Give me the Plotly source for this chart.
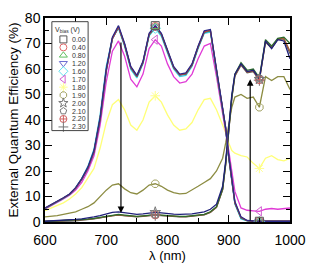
import plotly.graph_objects as go

# ---------------- data ----------------
wl = [600,610,620,630,640,650,660,670,680,690,700,710,720,730,740,750,760,770,780,790,
      800,810,820,830,840,850,860,870,880,890,895,900,905,910,920,930,940,950,960,970,
      980,990,1000]

bias = ["0.00","0.40","0.80","1.20","1.60","1.70","1.80","1.90","2.00","2.10","2.20","2.30"]

eqe_000 = [5.5,6.8,8.0,9.5,11.0,13.5,17,21.5,28,41,60,72.5,77,70,61,57.5,63,74,77,74,
           67.5,61,58,58.5,62,69,75,75.5,60,45,37,26,16,8,2,0.6,0.4,0.3,0.3,0.3,0.3,0.3,0.3]
eqe_040 = [5.4,6.7,7.9,9.4,10.9,13.3,16.8,21.2,27.6,40.5,59.5,72,76.6,69.6,60.7,57.2,62.7,73.6,76.7,73.7,
           67.2,60.7,57.8,58.2,61.7,68.7,74.6,75.2,59.6,44.6,36.8,25.6,15.5,7.6,1.8,0.5,0.4,0.3,0.3,0.3,0.3,0.3,0.3]
eqe_080 = [5.4,6.7,7.9,9.4,10.9,13.3,16.8,21.2,27.6,40.5,59.5,72,76.5,69.5,60.6,57.1,62.6,73.5,76.6,73.6,
           67.1,60.6,57.7,58.1,61.6,68.6,74.5,75.1,59.5,44.5,36.7,25.5,15.4,7.5,1.7,0.5,0.4,0.3,0.3,0.3,0.3,0.3,0.3]
eqe_120 = [5.3,6.6,7.8,9.3,10.8,13.2,16.6,21,27.3,40,59,71.8,76.4,69.4,60.5,57,62.5,73.4,76.5,73.5,
           67,60.5,57.6,58,61.5,68.5,74.4,75,59.4,44.4,36.6,25.4,15.3,7.4,1.6,0.5,0.3,0.3,0.3,0.3,0.3,0.3,0.3]
eqe_160 = [5.2,6.5,7.7,9.2,10.8,13.4,17,21.8,28.5,42,61,72,76,68.8,59.8,56.5,62,73,76,72.8,
           66.3,60,57,57.5,61,68,74,74.5,59,44,36.5,25,15,7,1.2,0.4,0.2,0.2,0.2,0.2,0.2,0.2,0.2]
eqe_170 = [5,6.3,7.5,9,10.5,12.5,15.5,20,26,38,55,67,71,65,56,53,58,68,71.5,69,
           62,57,54.5,55,58,64,69,70,57,43,36,28,20,12,5.5,4.6,4.4,4.2,5,5.3,5,5.2,5.5]
eqe_180 = [4.5,5.5,6.5,7.5,9,11,13.5,17,21,29,39,46,48,44,38,36,40,47,49.5,47,
           42,38,36,36.5,39,44,48,48.5,44,38,35,31,28,27,26,25.5,23,21,25,26,24.5,24,25]
eqe_190 = [2,2.2,2.5,3,3.5,4,5,6,7.5,10,12.5,14.5,15,13,11.5,11,12.5,14.5,15,14,
           12.5,11.5,11,11.2,12.5,14,15.5,17,20,25,31,38,45,49,50,48.5,49,45,57,55.5,57,57,52]
eqe_200 = [0.3,0.4,0.5,0.6,0.8,1,1.2,1.5,2,2.5,3.2,3.8,4,3.6,3.2,3,3.2,3.6,3.8,3.6,
           3.3,3.1,3,3,3.2,3.6,4,5,7,14,24,37,50,58,62,59,59.5,56,71,68,71.5,71,64]
eqe_210 = [0.2,0.3,0.4,0.5,0.6,0.7,0.9,1.1,1.4,1.8,2.3,2.8,3,2.7,2.4,2.2,2.4,2.7,2.9,2.7,
           2.5,2.3,2.2,2.2,2.4,2.7,3,4,6,13,23,36,49,58,62.5,59.5,60,56.5,71.5,69,72,72.5,70]
eqe_220 = [0.2,0.3,0.3,0.4,0.5,0.6,0.8,1,1.3,1.7,2.2,2.6,2.8,2.5,2.2,2.1,2.3,2.6,2.8,2.6,
           2.4,2.2,2.1,2.1,2.3,2.6,2.9,3.9,5.8,12.8,22.8,35.8,48.8,57.5,61.8,58.8,59.2,55.8,70.8,68.5,71.8,72,67]
eqe_230 = [0.2,0.2,0.3,0.3,0.4,0.5,0.7,0.9,1.2,1.6,2.1,2.5,2.7,2.4,2.1,2.0,2.2,2.5,2.7,2.5,
           2.3,2.1,2.0,2.0,2.2,2.5,2.8,3.8,5.7,12.6,22.6,35.6,48.6,57.2,61.5,58.5,59,55.6,70.5,68.2,71.5,71.8,66]

series = [eqe_000, eqe_040, eqe_080, eqe_120, eqe_160, eqe_170,
          eqe_180, eqe_190, eqe_200, eqe_210, eqe_220, eqe_230]

marker_wl = [780, 950]

x_ticks = [600, 700, 800, 900, 1000]
y_ticks = [0, 10, 20, 30, 40, 50, 60, 70, 80]

arrow_down = dict(x=724, y_from=71, y_to=3.5)
arrow_up = dict(x=935, y_from=0, y_to=56)

# ---------------- styles ----------------
colors = ["#2a2a8a", "#d03838", "#2fa82f", "#3b3bc4", "#38d4e4", "#e03ad6",
          "#ffff78", "#8c8c42", "#20207a", "#2b6b2b", "#a85a36", "#5a5a5a"]
symbols = ["square-open", "circle-open", "triangle-up-open", "triangle-down-open",
           "diamond-open", "triangle-left-open", "asterisk-open", "octagon-open",
           "star-open", "pentagon-open", "circle-cross-open", "cross-thin-open"]
legend_marker_colors = ["#555555", "#e06a6a", "#60c060", "#6a6ad0", "#60e0ee", "#d060d0",
                        "#ffff90", "#a0a060", "#777777", "#777777", "#d06060", "#777777"]

FONT = "Arial, Liberation Sans, Helvetica, sans-serif"

fig = go.Figure()

draw_order = [7, 6, 5, 11, 10, 9, 8, 4, 3, 2, 1, 0]
for i in draw_order:
    fig.add_trace(go.Scatter(x=wl, y=series[i], mode="lines",
                             line=dict(color=colors[i], width=1.3),
                             showlegend=False, hoverinfo="skip"))

# sparse markers on curves
for i in draw_order:
    mx = [w for w in marker_wl]
    my = [series[i][wl.index(w)] for w in marker_wl]
    fig.add_trace(go.Scatter(x=mx, y=my, mode="markers",
                             marker=dict(symbol=symbols[i], size=8,
                                         color=legend_marker_colors[i],
                                         line=dict(color=legend_marker_colors[i], width=1)),
                             showlegend=False, hoverinfo="skip"))

# ---------------- custom legend (overlay axes in fraction units) ----------------
leg_x_marker = 0.075
leg_x_text = 0.102
leg_y_top = 0.895
leg_step = 0.039
leg_y = [leg_y_top - k * leg_step for k in range(len(bias))]
for k in range(len(bias)):
    fig.add_trace(go.Scatter(x=[leg_x_marker], y=[leg_y[k]], mode="markers",
                             xaxis="x2", yaxis="y2",
                             marker=dict(symbol=symbols[k], size=7,
                                         color=legend_marker_colors[k],
                                         line=dict(color=legend_marker_colors[k], width=1)),
                             showlegend=False, hoverinfo="skip"))

annotations = []
for k in range(len(bias)):
    annotations.append(dict(x=leg_x_text, y=leg_y[k], xref="paper", yref="paper",
                            text=bias[k], showarrow=False, xanchor="left", yanchor="middle",
                            font=dict(family=FONT, size=7, color="#333333")))
annotations.append(dict(x=0.034, y=0.942, xref="paper", yref="paper",
                        text="V<sub>bias</sub> (V)", showarrow=False, xanchor="left",
                        yanchor="middle", font=dict(family=FONT, size=7, color="#333333")))

# arrows
annotations.append(dict(x=arrow_down["x"], y=arrow_down["y_to"], ax=arrow_down["x"],
                        ay=arrow_down["y_from"], xref="x", yref="y", axref="x", ayref="y",
                        showarrow=True, arrowhead=2, arrowsize=1.1, arrowwidth=1.2,
                        arrowcolor="black", text=""))
annotations.append(dict(x=arrow_up["x"], y=arrow_up["y_to"], ax=arrow_up["x"],
                        ay=arrow_up["y_from"], xref="x", yref="y", axref="x", ayref="y",
                        showarrow=True, arrowhead=2, arrowsize=1.1, arrowwidth=1.2,
                        arrowcolor="black", text=""))

shapes = [dict(type="rect", xref="paper", yref="paper", x0=0.028, x1=0.176,
               y0=0.448, y1=0.982, line=dict(color="#444444", width=1),
               fillcolor="rgba(255,255,255,0)")]

fig.update_layout(
    width=316, height=268,
    margin=dict(l=45, r=18, t=10, b=39),
    paper_bgcolor="white", plot_bgcolor="white",
    font=dict(family=FONT, size=14, color="black"),
    annotations=annotations, shapes=shapes,
    xaxis=dict(range=[600, 1000], tickvals=x_ticks, ticktext=[str(v) for v in x_ticks],
               ticks="inside", ticklen=7, tickwidth=1.2, tickcolor="black",
               showline=True, linecolor="black", linewidth=1.5, mirror="ticks",
               showgrid=False, zeroline=False, ticklabelstandoff=4,
               minor=dict(dtick=50, tick0=600, ticks="inside", ticklen=4,
                          tickcolor="black", tickwidth=1.2, showgrid=False),
               tickfont=dict(size=14, family=FONT),
               title=dict(text="λ (nm)", font=dict(size=13, family=FONT), standoff=1)),
    yaxis=dict(range=[0, 80], tickvals=y_ticks, ticktext=[str(v) for v in y_ticks],
               ticks="inside", ticklen=7, tickwidth=1.2, tickcolor="black",
               showline=True, linecolor="black", linewidth=1.5, mirror="ticks",
               showgrid=False, zeroline=False,
               minor=dict(dtick=5, tick0=0, ticks="inside", ticklen=4,
                          tickcolor="black", tickwidth=1.2, showgrid=False),
               tickfont=dict(size=14, family=FONT),
               title=dict(text="External Quantum Efficiency (%)",
                          font=dict(size=13.5, family=FONT), standoff=3)),
    xaxis2=dict(range=[0, 1], overlaying="x", anchor="y2", visible=False, fixedrange=True),
    yaxis2=dict(range=[0, 1], overlaying="y", anchor="x2", visible=False, fixedrange=True),
)

fig.write_html("out.html")
